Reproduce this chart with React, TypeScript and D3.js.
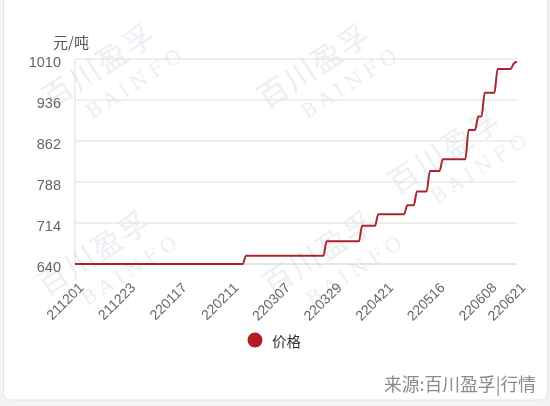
import React from "react";
import * as d3 from "d3";

const dates: string[] = [
  "211201","211202","211203","211206","211207","211208","211209","211210","211213","211214","211215","211216","211217","211220","211221","211222","211223","211224","211227","211228","211229","211230","211231",
  "220104","220105","220106","220107","220110","220111","220112","220113","220114","220117","220118","220119","220120","220121","220124","220125","220126","220127","220128","220129","220130",
  "220207","220208","220209","220210","220211","220214","220215","220216","220217","220218","220221","220222","220223","220224","220225","220228",
  "220301","220302","220303","220304","220307","220308","220309","220310","220311","220314","220315","220316","220317","220318","220321","220322","220323","220324","220325","220328","220329","220330","220331",
  "220401","220402","220406","220407","220408","220411","220412","220413","220414","220415","220418","220419","220420","220421","220422","220424","220425","220426","220427","220428","220429",
  "220505","220506","220507","220509","220510","220511","220512","220513","220516","220517","220518","220519","220520","220523","220524","220525","220526","220527","220530","220531",
  "220601","220602","220606","220607","220608","220609","220610","220613","220614","220615","220616","220617","220620","220621",
];

const prices: number[] = [
  640,640,640,640,640,640,640,640,640,640,640,640,640,640,640,640,640,640,640,640,640,640,640,
  640,640,640,640,640,640,640,640,640,640,640,640,640,640,640,640,640,640,640,640,640,
  640,640,640,640,640,640,640,640,640,655,655,655,655,655,655,655,
  655,655,655,655,655,655,655,655,655,655,655,655,655,655,655,655,655,655,681,681,681,681,681,
  681,681,681,681,681,681,709,709,709,709,709,730,730,730,730,730,730,730,730,730,746,
  746,746,771,771,771,771,808,808,808,808,829,829,829,829,829,829,829,829,882,882,
  882,906,906,949,949,949,949,992,992,992,992,992,1002,1005,
];

const xTickLabels: string[] = ["211201","211223","220117","220211","220307","220329","220421","220516","220608","220621"];
const yTicks: number[] = [640, 714, 788, 862, 936, 1010];
const seriesName = "价格";
const unitLabel = "元/吨";
const sourceLabel = "来源:百川盈孚|行情";
const watermarkMain = "百川盈孚";
const watermarkSub = "BAINFO";

const W = 550;
const H = 406;
const L = 75;
const R = 517;
const T = 59;
const B = 264;

const wmPos: [number, number][] = [
  [105, 75], [320, 75], [450, 160],
  [100, 262], [325, 262],
];

export default function App() {
  const x = d3.scalePoint<string>().domain(dates).range([L, R]).padding(0);
  const y = d3.scaleLinear().domain([640, 1010]).range([B, T]);
  const line = d3
    .line<number>()
    .x((_, i) => x(dates[i]) as number)
    .y((d) => y(d))
    .curve(d3.curveMonotoneX);
  const path = line(prices) || "";
  const numFont = "'Liberation Sans', Arial, sans-serif";
  const cjkFont = "'Noto Sans CJK SC', sans-serif";

  return (
    <div style={{ position: "fixed", left: 0, top: 0, width: W, height: H, background: "#f3f3f3" }}>
      <svg width={W} height={H} style={{ display: "block" }}>
        <rect x={3.5} y={-10} width={544} height={410} rx={7} fill="#ffffff" stroke="#e4e4e4" />
        <g fontFamily={cjkFont} fill="#e2e8ee" opacity={0.7}>
          {wmPos.map(([cx, cy], i) => (
            <g key={i} transform={`translate(${cx},${cy}) rotate(-33)`}>
              <text x={0} y={0} textAnchor="middle" fontSize={30} letterSpacing={2}>{watermarkMain}</text>
              <text x={22} y={30} textAnchor="middle" fontSize={20} letterSpacing={5} fontFamily="'DejaVu Serif', serif">{watermarkSub}</text>
            </g>
          ))}
        </g>
        {yTicks.map((t) => (
          <line key={t} x1={L} x2={R} y1={y(t)} y2={y(t)} stroke={t === 640 ? "#cccccc" : "#dedede"} strokeWidth={1} />
        ))}
        <line x1={L} x2={L} y1={T} y2={B} stroke="#dedede" strokeWidth={1} />
        {yTicks.map((t) => (
          <text key={t} x={61} y={y(t) + 3} textAnchor="end" dominantBaseline="central" fontSize={14.5} fill="#666" fontFamily={numFont}>
            {t}
          </text>
        ))}
        <text x={71} y={41} textAnchor="middle" dominantBaseline="central" fontSize={15} fill="#555" fontFamily={cjkFont}>
          {unitLabel}
        </text>
        {xTickLabels.map((d) => {
          const px = x(d) as number;
          return (
            <text
              key={d}
              transform={`translate(${px + 6},${285}) rotate(-45)`}
              textAnchor="end"
              dominantBaseline="central"
              fontSize={14}
              fill="#666"
              fontFamily={numFont}
            >
              {d}
            </text>
          );
        })}
        <path d={path} fill="none" stroke="#a8262b" strokeWidth={2} />
        <circle cx={255} cy={340} r={7.5} fill="#b01e22" />
        <text x={272} y={340} dominantBaseline="central" fontSize={14.5} fill="#333" fontFamily={cjkFont}>
          {seriesName}
        </text>
        <text x={536} y={383} textAnchor="end" dominantBaseline="central" fontSize={17.8} fill="#8a8a8a" fontFamily={cjkFont}>
          {sourceLabel}
        </text>
      </svg>
    </div>
  );
}
